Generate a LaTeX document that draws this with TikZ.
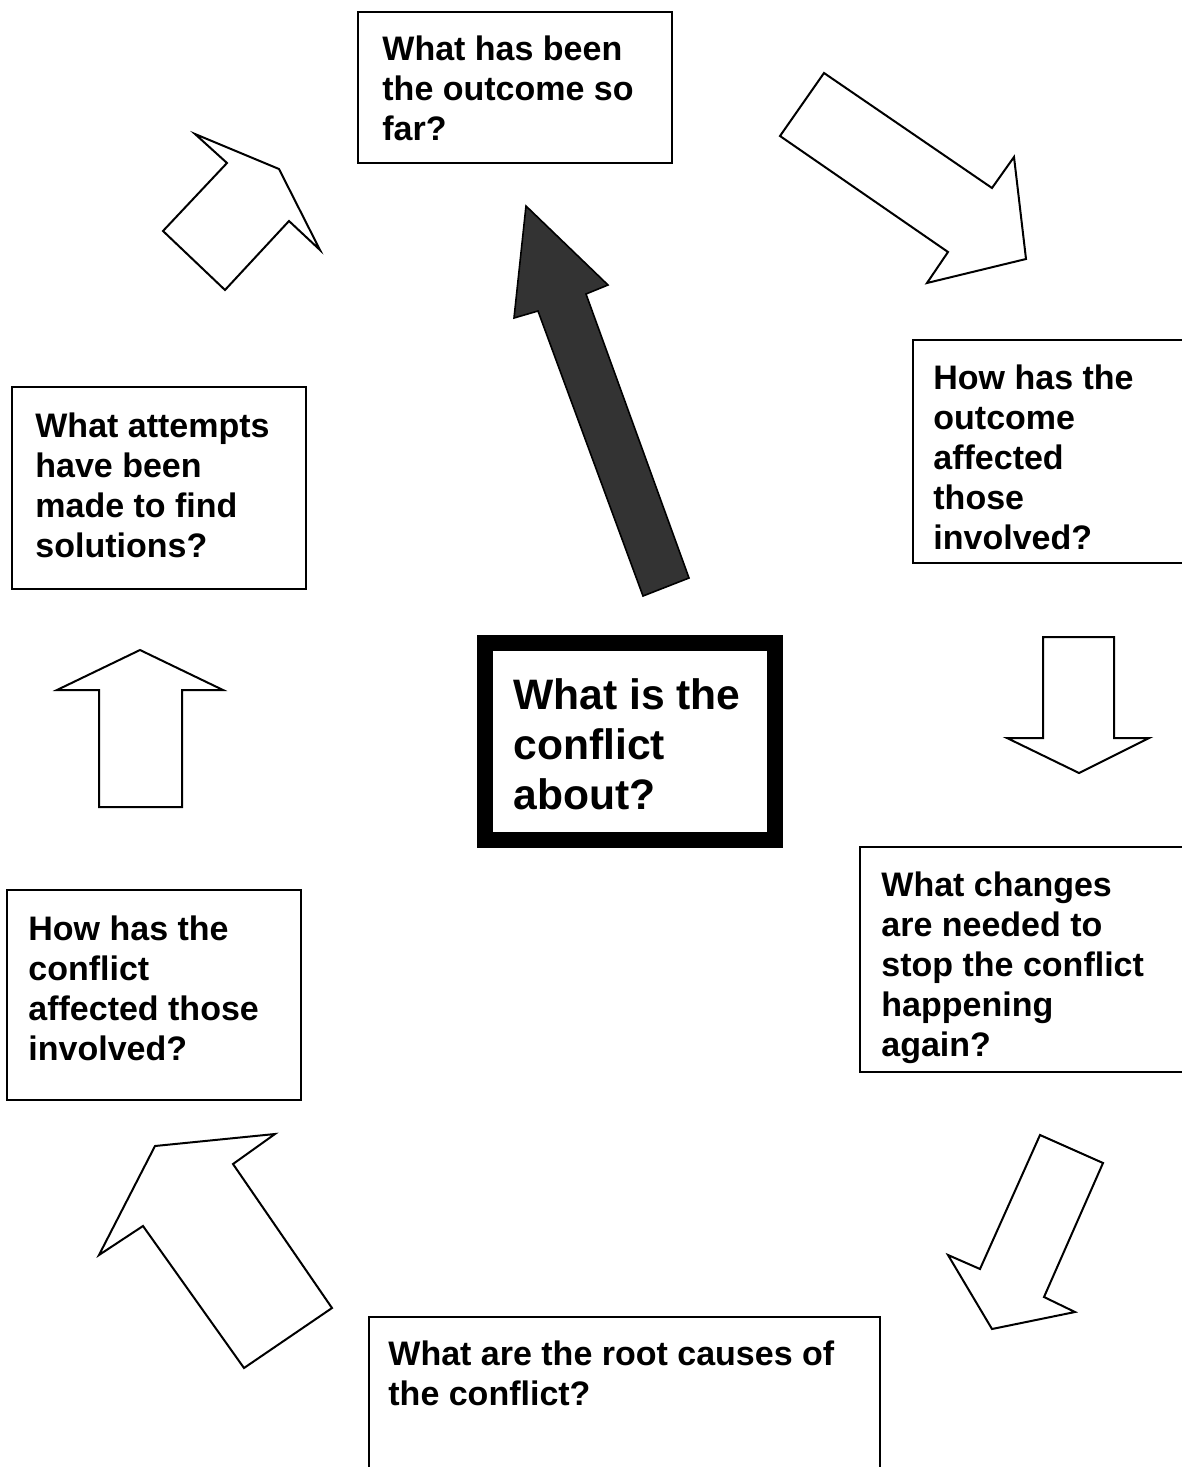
\documentclass[tikz,border=0pt]{standalone}
\usepackage{fontspec}
\setmainfont{Liberation Sans}
\begin{document}
\begin{tikzpicture}[x=0.5pt,y=-0.5pt,
  boxline/.style={draw=black,line width=1pt},
  arrowshape/.style={draw=black,line width=1pt,fill=white,line join=miter},
  darkarrow/.style={draw=black,line width=0.8pt,fill=black!80,line join=miter},
  qtext/.style={inner sep=0pt,anchor=north west,align=left,
     font=\fontsize{17pt}{20pt}\selectfont\bfseries},
  bigtext/.style={inner sep=0pt,anchor=north west,align=left,
     font=\fontsize{21.3pt}{25pt}\selectfont\bfseries}]
\useasboundingbox (0,0) rectangle (1182,1467);
\clip (0,0) rectangle (1182,1467);

% boxes
\draw[boxline] (358,12) rectangle (672,163);
\draw[boxline] (1200,340) -- (913,340) -- (913,563) -- (1200,563);
\draw[boxline] (12,387) rectangle (306,589);
\draw[boxline] (1200,847) -- (860,847) -- (860,1072) -- (1200,1072);
\draw[boxline] (7,890) rectangle (301,1100);
\draw[boxline] (369,1490) -- (369,1317) -- (880,1317) -- (880,1490);
\draw[line width=8pt] (485,643) rectangle (775,840);

% texts
\node[qtext] (top) at (382,35) {What has been\\the outcome so\\far?};
\node[qtext] (rone) at (933,364) {How has the\\outcome\\affected\\those\\involved?};
\node[qtext] (lone) at (35,412) {What attempts\\have been\\made to find\\solutions?};
\node[qtext] (rtwo) at (881,871) {What changes\\are needed to\\stop the conflict\\happening\\again?};
\node[qtext] (ltwo) at (28,915) {How has the\\conflict\\affected those\\involved?};
\node[qtext] (bot) at (388,1340) {What are the root causes of\\the conflict?};
\node[bigtext] (centre) at (513,678) {What is the\\conflict\\about?};

% arrows
\draw[arrowshape] (195,134) -- (227,163) -- (163,231) -- (225,290) -- (289,221) -- (320,250) -- (279,169) -- cycle;
\draw[arrowshape] (824,73) -- (780,136) -- (948,252) -- (927,283) -- (1026,259) -- (1014,157) -- (992,188) -- cycle;
\draw[darkarrow] (526,206) -- (514,318) -- (538,311) -- (643,596) -- (689,578) -- (586,294) -- (608,285) -- cycle;
\draw[arrowshape] (1043,637) -- (1114,637) -- (1114,738) -- (1149,738) -- (1079,773) -- (1007,738) -- (1043,738) -- cycle;
\draw[arrowshape] (140,650) -- (223,690) -- (182,690) -- (182,807) -- (99,807) -- (99,690) -- (57,690) -- cycle;
\draw[arrowshape] (1040,1135) -- (1103,1163) -- (1044,1297) -- (1075,1312) -- (992,1329) -- (948,1255) -- (980,1269) -- cycle;
\draw[arrowshape] (275,1134) -- (155,1146) -- (99,1255) -- (143,1226) -- (244,1368) -- (332,1308) -- (233,1164) -- cycle;
\end{tikzpicture}
\end{document}
